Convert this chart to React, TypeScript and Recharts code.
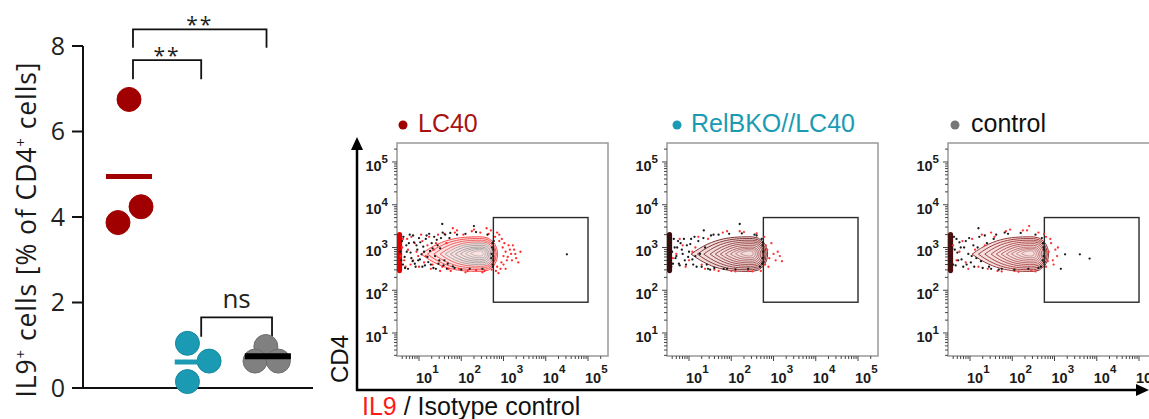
import React from 'react';
import { ScatterChart, Scatter, XAxis, YAxis, ReferenceArea, ReferenceLine } from 'recharts';

const FONT = '"Open Sans", "DejaVu Sans", sans-serif';
const ARIAL = '"Liberation Sans", Arial, sans-serif';

// ---------- left summary plot ----------
const groupNames = ['LC40', 'RelBKO//LC40', 'control'];
const groupColors = ['#a00000', '#1a9bb3', '#808080'];
const groupStroke = ['#a00000', '#16889e', '#6c6c6c'];
const groupCenters = [1, 2, 3.02];
const lc40Values = [
  { x: 1.0, y: 6.75 },
  { x: 0.84, y: 3.87 },
  { x: 1.175, y: 4.24 },
];
const relbValues = [
  { x: 1.85, y: 1.045 },
  { x: 1.85, y: 0.15 },
  { x: 2.165, y: 0.63 },
];
const controlValues = [
  { x: 2.99, y: 0.97 },
  { x: 2.833, y: 0.63 },
  { x: 3.172, y: 0.63 },
];
const groupValues = [lc40Values, relbValues, controlValues];
const groupMeans = [4.95, 0.61, 0.74];
const meanColors = ['#a00000', '#1a9bb3', '#000000'];
const meanWidths = [5, 5, 6];
const meanHalf = 0.335;
const yTicksLeft = [0, 2, 4, 6, 8];

const brackets = [
  { from: 1.058, to: 3.0, bar: 8.39, foot: 7.96, label: '**' },
  { from: 1.058, to: 2.05, bar: 7.67, foot: 7.22, label: '**' },
  { from: 2.05, to: 3.08, bar: 1.65, foot: 1.2, label: 'ns' },
];

// ---------- flow plots (values in log10 units) ----------
const majorExponents = [1, 2, 3, 4, 5];
const minorFactors = [2, 3, 4, 5, 6, 7, 8, 9];
const xDomain: [number, number] = [0.479, 5.473];
const yDomain: [number, number] = [0.462, 5.444];
const gate = { x1: 2.76, x2: 5.0, y1: 1.72, y2: 3.7 };
const pileUp = { x1: 0.479, x2: 0.6, y1: 2.4, y2: 3.36 };

const contourLevels = [
  { x1: 1.05, x2: 2.86, y1: 2.44, y2: 3.25 },
  { x1: 1.2, x2: 2.83, y1: 2.48, y2: 3.21 },
  { x1: 1.35, x2: 2.8, y1: 2.52, y2: 3.17 },
  { x1: 1.5, x2: 2.77, y1: 2.56, y2: 3.13 },
  { x1: 1.62, x2: 2.74, y1: 2.6, y2: 3.09 },
  { x1: 1.74, x2: 2.7, y1: 2.64, y2: 3.05 },
  { x1: 1.86, x2: 2.66, y1: 2.68, y2: 3.01 },
  { x1: 1.98, x2: 2.62, y1: 2.72, y2: 2.98 },
  { x1: 2.1, x2: 2.57, y1: 2.76, y2: 2.95 },
  { x1: 2.22, x2: 2.52, y1: 2.8, y2: 2.92 },
];
const lc40ContourColors = ['#ff3a3a', '#f24646', '#e85252', '#e06060', '#a8a0a0', '#9c9c9c', '#9a9a9a', '#a0a0a0', '#aaaaaa', '#b8b8b8'];
const relbContourColors = ['#6e1e1e', '#7a2626', '#843030', '#8e3a3a', '#984646', '#a05252', '#a85e5e', '#b06c6c', '#b87a7a', '#c48a8a'];
const controlContourColors = ['#8a2424', '#982c2c', '#a03636', '#a84242', '#b04e4e', '#b65a5a', '#bc6868', '#c07474', '#c48080', '#cc9090'];

const lc40Black: [number, number][] = [
  [0.55, 2.9], [0.6, 3.15], [0.62, 2.6], [0.66, 2.78], [0.7, 3.05], [0.74, 2.5], [0.78, 3.3], [0.8, 2.88],
  [0.85, 2.68], [0.88, 3.12], [0.92, 2.55], [0.96, 2.95], [1.0, 3.22], [1.02, 2.72], [1.06, 2.84], [1.1, 3.02],
  [1.14, 2.58], [1.18, 3.28], [1.22, 2.66], [1.26, 2.92], [1.3, 3.1], [1.34, 2.52], [1.38, 2.8], [1.42, 3.18],
  [1.46, 2.62], [1.5, 2.98], [1.56, 3.35], [1.6, 2.7], [1.66, 2.5], [1.72, 3.22], [1.8, 2.56], [1.9, 3.3],
  [2.0, 2.48], [2.1, 3.32], [2.2, 2.5], [2.35, 3.36], [2.5, 2.5], [2.62, 3.3], [2.74, 2.6], [2.75, 2.8],
  [2.76, 2.95], [2.74, 3.1], [2.76, 2.7], [1.55, 3.55], [2.3, 3.5], [4.5, 2.84],
  [0.58, 2.7], [0.63, 3.25], [0.67, 2.52], [0.71, 2.9], [0.76, 3.1], [0.82, 2.75], [0.86, 3.28], [0.9, 2.62],
  [0.94, 3.05], [0.98, 2.7], [1.03, 3.12], [1.08, 2.55], [1.12, 2.9], [1.16, 3.2], [1.2, 2.78], [1.24, 3.32],
  [1.28, 2.6], [1.32, 2.98], [1.36, 3.25], [1.4, 2.5], [1.44, 3.05], [1.48, 2.7], [1.52, 3.22], [1.58, 2.58],
  [1.62, 3.3], [1.68, 2.62], [1.74, 3.34], [1.84, 2.52], [2.72, 2.85], [2.73, 3.0], [2.75, 2.55], [2.77, 3.15],
  [2.71, 2.75],
];
const lc40Red: [number, number][] = [
  [0.6, 3.0], [0.65, 2.7], [0.72, 3.2], [0.8, 2.6], [0.9, 3.1], [0.98, 2.8], [1.05, 3.3], [1.12, 2.65],
  [1.2, 3.05], [1.28, 2.5], [1.35, 2.95], [1.45, 3.3], [1.55, 2.55], [1.65, 3.1], [1.75, 2.45], [1.85, 3.35],
  [1.95, 2.5], [2.05, 3.3], [2.15, 2.45], [2.25, 3.38], [2.35, 2.47], [2.45, 3.35], [2.55, 2.45], [2.65, 3.32],
  [2.72, 2.48], [2.8, 3.25], [2.85, 2.55], [2.9, 3.15], [2.95, 2.65], [2.98, 3.0], [3.0, 2.8], [3.05, 2.9],
  [3.08, 2.7], [3.12, 3.05], [3.18, 2.85], [3.25, 2.95], [3.3, 2.75], [2.88, 2.4], [2.6, 3.45], [1.8, 3.45],
  [3.35, 2.65],
  [0.56, 2.8], [0.62, 3.2], [0.68, 2.55], [0.74, 2.95], [0.82, 3.25], [0.86, 2.7], [0.94, 2.9], [1.0, 2.55],
  [1.08, 3.15], [1.16, 2.8], [1.24, 3.25], [1.32, 2.6], [1.4, 3.1], [1.5, 2.45], [1.6, 3.32], [1.7, 2.5],
  [1.9, 3.4], [2.1, 2.42], [2.3, 3.42], [2.5, 2.42], [2.7, 3.4], [2.82, 2.45], [2.9, 3.3], [2.93, 2.5],
  [2.96, 3.2], [3.0, 2.6], [3.02, 3.1], [3.1, 2.78], [3.15, 2.95], [3.2, 2.7], [3.22, 3.05], [3.28, 2.85],
  [3.4, 2.9], [2.85, 3.35], [3.05, 2.5],
];
const relbBlack: [number, number][] = [
  [0.52, 2.7], [0.55, 3.05], [0.58, 2.55], [0.6, 2.9], [0.64, 3.2], [0.68, 2.75], [0.72, 3.0], [0.76, 2.62],
  [0.8, 3.1], [0.85, 2.85], [0.9, 2.7], [0.95, 3.05], [1.0, 2.9], [1.05, 3.2], [1.1, 2.6], [1.15, 2.8],
  [1.22, 3.15], [1.3, 2.55], [1.38, 3.0], [1.45, 2.5], [1.52, 3.28], [1.6, 2.52], [1.7, 3.3], [1.82, 2.5],
  [1.95, 3.32], [2.1, 2.49], [2.25, 3.33], [2.4, 2.5], [2.55, 3.3], [2.68, 2.55], [2.74, 2.75], [2.75, 2.9],
  [2.74, 3.05], [2.72, 3.2], [2.76, 2.65], [2.2, 3.55], [1.35, 3.4],
  [0.54, 2.85], [0.57, 3.2], [0.62, 2.62], [0.66, 3.0], [0.7, 2.8], [0.74, 3.15], [0.78, 2.58], [0.83, 2.95],
  [0.88, 3.2], [0.93, 2.6], [0.98, 2.78], [1.03, 3.08], [1.08, 2.72], [1.13, 3.25], [1.18, 2.55], [1.26, 2.85],
  [1.34, 3.22], [1.42, 2.6], [1.5, 2.48], [1.58, 3.3], [1.9, 2.5], [2.6, 3.28], [2.73, 2.62], [2.75, 3.12],
];
const relbRed: [number, number][] = [
  [0.7, 2.85], [0.85, 3.05], [1.0, 2.7], [1.15, 3.0], [1.3, 2.6], [1.45, 3.2], [1.6, 2.48], [1.8, 3.35],
  [2.0, 2.45], [2.2, 3.38], [2.4, 2.45], [2.6, 3.33], [2.8, 2.6], [2.85, 2.95], [2.9, 2.75], [2.95, 3.1],
  [3.0, 2.85], [3.05, 2.7], [3.1, 2.9], [2.78, 3.25], [2.7, 2.45],
  [0.62, 2.75], [0.78, 3.2], [0.92, 2.55], [1.08, 2.9], [1.22, 3.25], [1.38, 2.5], [1.7, 2.45], [1.9, 3.38],
  [2.1, 2.44], [2.3, 3.36], [2.5, 2.44], [2.82, 3.05], [2.88, 2.55], [3.15, 2.8], [3.2, 2.68],
];
const controlBlack: [number, number][] = [
  [0.52, 2.8], [0.56, 3.1], [0.6, 2.6], [0.64, 2.95], [0.68, 3.2], [0.72, 2.7], [0.78, 3.0], [0.84, 2.55],
  [0.9, 3.15], [0.96, 2.85], [1.02, 2.65], [1.08, 3.05], [1.15, 2.75], [1.22, 3.25], [1.3, 2.52], [1.4, 3.1],
  [1.5, 2.5], [1.62, 3.3], [1.75, 2.5], [1.9, 3.32], [2.05, 2.48], [2.2, 3.34], [2.38, 2.5], [2.55, 3.3],
  [2.68, 2.55], [2.74, 2.8], [2.75, 2.95], [2.73, 3.1], [2.76, 2.65], [3.25, 2.84], [3.6, 2.84], [3.83, 2.74],
  [3.15, 2.5], [1.2, 3.45],
  [0.54, 2.68], [0.58, 2.98], [0.62, 3.25], [0.66, 2.58], [0.7, 2.88], [0.75, 3.12], [0.8, 2.72], [0.86, 3.0],
  [0.92, 2.6], [0.98, 3.22], [1.04, 2.8], [1.1, 2.55], [1.18, 3.0], [1.26, 2.68], [1.35, 3.28], [1.45, 2.55],
  [1.56, 3.2], [1.68, 2.48], [1.82, 3.35], [2.62, 2.52], [2.72, 2.7], [2.74, 3.0], [2.7, 3.22],
];
const controlRed: [number, number][] = [
  [0.75, 2.9], [0.9, 2.65], [1.05, 3.2], [1.2, 2.55], [1.35, 3.05], [1.5, 3.35], [1.65, 2.45], [1.85, 3.38],
  [2.05, 2.45], [2.25, 3.4], [2.45, 2.46], [2.62, 3.35], [2.8, 2.55], [2.86, 2.9], [2.92, 3.1], [2.96, 2.7],
  [3.02, 2.95], [3.06, 2.8], [2.8, 3.25], [2.4, 3.5],
  [0.6, 3.05], [0.68, 2.7], [0.82, 3.15], [0.96, 2.5], [1.12, 2.95], [1.28, 3.3], [1.42, 2.5], [1.58, 3.25],
  [1.75, 2.44], [1.95, 3.42], [2.15, 2.43], [2.35, 3.4], [2.55, 2.44], [2.75, 3.32], [2.84, 2.68], [2.9, 3.2],
  [2.98, 2.6], [3.08, 3.0],
];

const toPoints = (arr: [number, number][]) => arr.map(([x, y]) => ({ x, y }));

const buildTicks = (dom: [number, number]) => {
  const t: number[] = [];
  for (let d = 0; d <= 5; d++) {
    t.push(d);
    minorFactors.forEach((f) => t.push(d + Math.log10(f)));
  }
  return t.filter((v) => v >= dom[0] - 1e-9 && v <= dom[1] + 1e-9);
};
const isMajor = (v: number) => Math.abs(v - Math.round(v)) < 1e-6 && majorExponents.includes(Math.round(v));

const XTick = (props: any) => {
  const { x, y, payload } = props;
  const v = payload.value;
  const major = isMajor(v);
  return (
    <g>
      <line x1={x} x2={x} y1={y} y2={y + (major ? 5 : 3)} stroke="#444" strokeWidth={1} />
      {major && (
        <text x={x - 3} y={y + 27} fontSize={14.5} fontWeight="bold" fontFamily={ARIAL} fill="#1a1a1a">
          10
          <tspan dy={-10} fontSize={11.5}>{Math.round(v)}</tspan>
        </text>
      )}
    </g>
  );
};
const YTick = (props: any) => {
  const { x, y, payload } = props;
  const v = payload.value;
  const major = isMajor(v);
  return (
    <g>
      <line x1={x - (major ? 5 : 3)} x2={x} y1={y} y2={y} stroke="#444" strokeWidth={1} />
      {major && (
        <text x={x - 9} y={y + 9} textAnchor="end" fontSize={14.5} fontWeight="bold" fontFamily={ARIAL} fill="#1a1a1a">
          10
          <tspan dy={-8} fontSize={11.5}>{Math.round(v)}</tspan>
        </text>
      )}
    </g>
  );
};

const Tear = (p: any) => {
  const { x, y, width: w, height: h, stroke, fill } = p;
  const cy = y + h / 2;
  const d = `M${x},${cy} C${x + w * 0.3},${y} ${x + w * 0.55},${y} ${x + w * 0.8},${y} A${w * 0.2},${h / 2} 0 0 1 ${x + w * 0.8},${y + h} C${x + w * 0.55},${y + h} ${x + w * 0.3},${y + h} ${x},${cy} Z`;
  return <path d={d} stroke={stroke} fill={fill || 'none'} strokeWidth={0.9} />;
};
const Pill = (p: any) => {
  const { x, y, width, height, fill } = p;
  return <rect x={x} y={y} width={width} height={height} rx={width / 2} fill={fill} />;
};
const Frame = (p: any) => {
  const { x, y, width, height } = p;
  return <rect x={x} y={y} width={width} height={height} fill="none" stroke="#999" strokeWidth={1.5} />;
};
const GateBox = (p: any) => {
  const { x, y, width, height } = p;
  return <rect x={x} y={y} width={width} height={height} fill="none" stroke="#2a2a2a" strokeWidth={1.4} />;
};

const FlowPlot = ({ left, black, red, contourColors, bandColor, dotRed, haze }: any) => {
  const xt = buildTicks(xDomain);
  const yt = buildTicks(yDomain);
  return (
    <div style={{ position: 'absolute', left, top: 130 }}>
      <ScatterChart width={256} height={256} margin={{ top: 13, right: 5, bottom: 0, left: 0 }}>
        <XAxis type="number" dataKey="x" domain={xDomain} allowDataOverflow ticks={xt} interval={0} tick={<XTick />}
          tickLine={false} axisLine={false} tickSize={0} tickMargin={0} height={30} />
        <YAxis type="number" dataKey="y" domain={yDomain} allowDataOverflow ticks={yt} interval={0} tick={<YTick />}
          tickLine={false} axisLine={false} tickSize={0} tickMargin={0} width={40} />
        <ReferenceArea x1={xDomain[0]} x2={xDomain[1]} y1={yDomain[0]} y2={yDomain[1]} shape={Frame} ifOverflow="visible" />
        {contourLevels.map((c, i) => (
          <ReferenceArea key={i} x1={c.x1} x2={c.x2} y1={c.y1} y2={c.y2} stroke={contourColors[i]}
            fill={i === 0 ? haze : 'none'} shape={Tear} />
        ))}
        <Scatter data={toPoints(red)} isAnimationActive={false}
          shape={(p: any) => <circle cx={p.cx} cy={p.cy} r={1.15} fill={dotRed} />} />
        <Scatter data={toPoints(black)} isAnimationActive={false}
          shape={(p: any) => <circle cx={p.cx} cy={p.cy} r={1.15} fill="#1a1a1a" />} />
        <ReferenceArea x1={pileUp.x1} x2={pileUp.x2} y1={pileUp.y1} y2={pileUp.y2} fill={bandColor} shape={Pill} />
        <ReferenceArea x1={gate.x1} x2={gate.x2} y1={gate.y1} y2={gate.y2} shape={GateBox} />
      </ScatterChart>
    </div>
  );
};

const SummaryPlot = () => (
  <div style={{ position: 'absolute', left: 0, top: 0 }}>
    <ScatterChart width={320} height={419} margin={{ top: 20, right: 7, bottom: 0, left: 0 }}>
      <XAxis type="number" dataKey="x" domain={[0.331, 3.676]} tick={false} tickLine={false}
        axisLine={{ stroke: '#111', strokeWidth: 2 }} height={31} />
      <YAxis type="number" dataKey="y" domain={[0, 8.608]} ticks={yTicksLeft} interval={0} width={83}
        axisLine={false} tickLine={{ stroke: '#111', strokeWidth: 2 }} tickSize={11} tickMargin={7}
        tick={{ fontSize: 25, fill: '#222', fontFamily: FONT }} />
      <ReferenceLine segment={[{ x: 0.331, y: 0 }, { x: 0.331, y: 8 }]} stroke="#111" strokeWidth={2} ifOverflow="visible" />
      {brackets.map((b, i) => (
        <Scatter key={'b' + i} isAnimationActive={false}
          data={[{ x: b.from, y: b.foot }, { x: b.from, y: b.bar }, { x: b.to, y: b.bar }, { x: b.to, y: b.foot }]}
          line={{ stroke: '#111', strokeWidth: 1.8 }} shape={() => <g />} />
      ))}
      <Scatter isAnimationActive={false}
        data={brackets.map((b) => ({ x: (b.from + b.to) / 2, y: b.bar, label: b.label }))}
        shape={(p: any) => {
          const stars = p.payload.label === '**';
          return (
            <text x={p.cx} y={p.cy + (stars ? 3 : -9)} textAnchor="middle" fontFamily={FONT}
              fontSize={stars ? 21 : 26} fill="#222" letterSpacing={stars ? 2 : 0}>{p.payload.label}</text>
          );
        }} />
      {groupValues.map((vals, gi) => (
        <React.Fragment key={gi}>
          {gi === 0 && (
            <Scatter isAnimationActive={false}
              data={[{ x: groupCenters[gi] - meanHalf, y: groupMeans[gi] }, { x: groupCenters[gi] + meanHalf, y: groupMeans[gi] }]}
              line={{ stroke: meanColors[gi], strokeWidth: meanWidths[gi] }} shape={() => <g />} />
          )}
          <Scatter data={vals} isAnimationActive={false} name={groupNames[gi]}
            shape={(p: any) => <circle cx={p.cx} cy={p.cy} r={12} fill={groupColors[gi]} stroke={groupStroke[gi]} strokeWidth={1} />} />
          {gi > 0 && (
            <Scatter isAnimationActive={false}
              data={[{ x: groupCenters[gi] - meanHalf, y: groupMeans[gi] }, { x: groupCenters[gi] + meanHalf - (gi === 1 ? 0.2 : 0), y: groupMeans[gi] }]}
              line={{ stroke: meanColors[gi], strokeWidth: meanWidths[gi] }} shape={() => <g />} />
          )}
        </React.Fragment>
      ))}
    </ScatterChart>
  </div>
);

const titles = [
  { name: 'LC40', dotX: 403, textX: 418, color: '#a81212', dot: '#a00000' },
  { name: 'RelBKO//LC40', dotX: 677, textX: 691, color: '#1a9bb3', dot: '#1a9bb3' },
  { name: 'control', dotX: 955, textX: 971, color: '#111', dot: '#777' },
];

export default function App() {
  return (
    <div style={{ position: 'absolute', left: 0, top: 0, width: 1149, height: 419, overflow: 'hidden', background: '#fff' }}>
      <SummaryPlot />
      <FlowPlot left={357} black={lc40Black} red={lc40Red} contourColors={lc40ContourColors} bandColor="#e00000" dotRed="#ff2a2a" haze="#fde0e0" />
      <FlowPlot left={627} black={relbBlack} red={relbRed} contourColors={relbContourColors} bandColor="#3a0c0c" dotRed="#ff3333" haze="#f0dcdc" />
      <FlowPlot left={908} black={controlBlack} red={controlRed} contourColors={controlContourColors} bandColor="#4a1010" dotRed="#ff3333" haze="#f4dede" />
      <svg width={1149} height={419} style={{ position: 'absolute', left: 0, top: 0, pointerEvents: 'none' }}>
        <text transform="translate(36,230) rotate(-90)" textAnchor="middle" fontFamily={FONT} fontSize={26.5} fill="#1a1a1a"
          textLength={335} lengthAdjust="spacing">
          IL9<tspan dy={-10} fontSize={15}>+</tspan><tspan dy={10}> cells [% of CD4</tspan><tspan dy={-10} fontSize={15}>+</tspan><tspan dy={10}> cells]</tspan>
        </text>
        <line x1={357} y1={391} x2={357} y2={148} stroke="#000" strokeWidth={2.5} />
        <polygon points="357,137 351,150 363,150" fill="#000" />
        <line x1={356} y1={390} x2={1138} y2={390} stroke="#000" strokeWidth={2.5} />
        <polygon points="1149,390 1136,384 1136,396" fill="#000" />
        <text transform="translate(348,359) rotate(-90)" textAnchor="middle" fontFamily={ARIAL} fontSize={24} fill="#111">CD4</text>
        <text x={362} y={415} fontFamily={ARIAL} fontSize={25} fill="#111">
          <tspan fill="#ff1a1a">IL9</tspan> / Isotype control
        </text>
        {titles.map((t) => (
          <g key={t.name}>
            <circle cx={t.dotX} cy={125} r={4.5} fill={t.dot} />
            <text x={t.textX} y={131.5} fontFamily={ARIAL} fontSize={25} fill={t.color}>{t.name}</text>
          </g>
        ))}
      </svg>
    </div>
  );
}
